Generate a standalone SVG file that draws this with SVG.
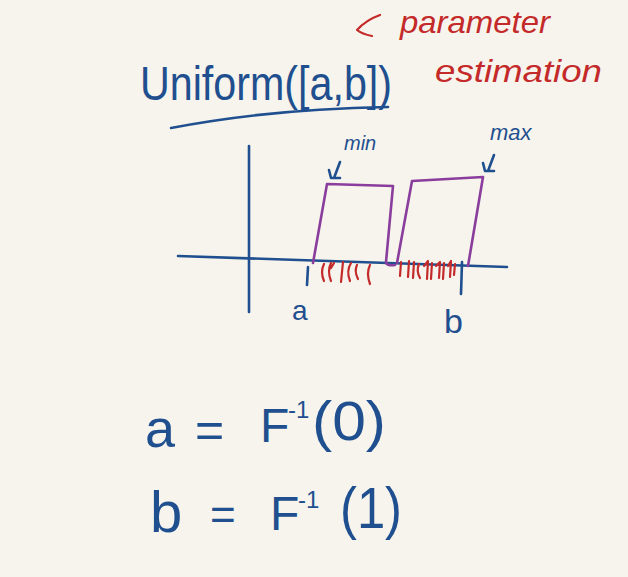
<svg xmlns="http://www.w3.org/2000/svg" width="628" height="577" viewBox="0 0 628 577">
<style>
.blue{fill:none;stroke:#1f4f8f;stroke-width:2.6;stroke-linecap:round;stroke-linejoin:round}
.red{fill:none;stroke:#c42a2a;stroke-width:2.2;stroke-linecap:round;stroke-linejoin:round}
.purple{fill:none;stroke:#8a3d9c;stroke-width:2.6;stroke-linecap:round;stroke-linejoin:round}
.tb{fill:#1f4f8f;font-family:"Liberation Sans",Arial,sans-serif}
.tr{fill:#c42a2a;font-family:"Liberation Sans",Arial,sans-serif;font-style:italic}
</style>
<rect width="628" height="577" fill="#f6f4ec"/>
<g id="title">
<text class="tb" x="140" y="100" font-size="48" textLength="252" lengthAdjust="spacingAndGlyphs">Uniform([a,b])</text>
<path class="blue" d="M171,128 Q270,109 388,107"/>
</g>
<g id="note">
<path class="red" d="M380,15 Q366,20 357,30 Q362,34 372,36"/>
<text class="tr" x="400" y="33" font-size="32" textLength="150" lengthAdjust="spacingAndGlyphs">parameter</text>
<text class="tr" x="435" y="82" font-size="32" textLength="167" lengthAdjust="spacingAndGlyphs">estimation</text>
</g>
<g id="plot">
<path class="blue" d="M249,146 L249,312"/>
<path class="blue" d="M178,256 L507,267"/>
<path class="blue" d="M308,267 L307,285 M462,262 L461,294"/>
<path class="purple" d="M313,263 L327,184 L393,186 L386,262 Q386,266 395,265 M397,263 L412,181 L483,177 L468,266"/>
<g class="red">
<path d="M324,264 Q320,272 324,281 M331,263 Q327,271 331,281 M331,268 L334,263"/>
<path d="M343,262 L341,282 M351,263 Q346,271 350,281 M357,265 Q354,271 358,279 M370,265 Q366,273 370,284"/>
<path d="M401,262 L400,276 M409,261 L408,277 M414,262 L413,278 M419,264 Q416,271 420,278 M424,266 L428,261 L427,279 M432,263 L431,279 M436,266 L440,262 L439,278 M444,263 L443,279 M448,266 L451,261 L450,277 M455,264 L454,275"/>
</g>
<text class="tb" x="292" y="320" font-size="28">a</text>
<text class="tb" x="444" y="333" font-size="34">b</text>
</g>
<g id="min">
<text class="tb" x="344" y="150" font-size="20" font-style="italic">min</text>
<path class="blue" d="M340,162 L334,178 M329,170 L331,178 L340,178"/>
</g>
<g id="max">
<text class="tb" x="490" y="140" font-size="22" font-style="italic">max</text>
<path class="blue" d="M494,155 L488,171 M483,163 L485,171 L494,171"/>
</g>
<g id="eq1">
<text class="tb" x="145" y="447" font-size="54">a</text>
<text class="tb" x="195" y="447" font-size="50">=</text>
<text class="tb" x="260" y="442" font-size="48">F</text>
<text class="tb" x="288" y="418" font-size="24">-1</text>
<text class="tb" x="312" y="440" font-size="56" textLength="74" lengthAdjust="spacingAndGlyphs">(0)</text>
</g>
<g id="eq2">
<text class="tb" x="150" y="532" font-size="58">b</text>
<text class="tb" x="210" y="530" font-size="44">=</text>
<text class="tb" x="270" y="530" font-size="48">F</text>
<text class="tb" x="298" y="508" font-size="24">-1</text>
<text class="tb" x="340" y="528" font-size="58" textLength="62" lengthAdjust="spacingAndGlyphs">(1)</text>
</g>
</svg>
